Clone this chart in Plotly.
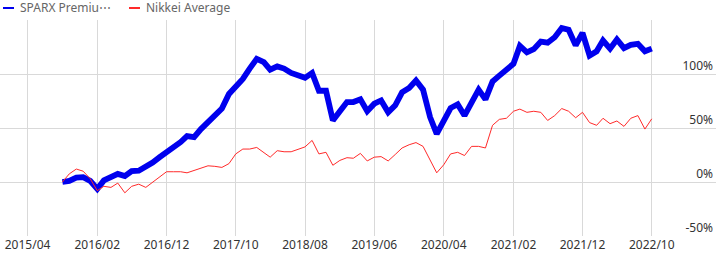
import pandas as pd
import plotly.graph_objects as go

months = pd.date_range("2015-09-01", "2022-10-01", freq="MS")

sparx = [0, 1, 4, 4.5, 1, -6.5, 1.5, 4, 7.5, 5.5, 10, 10.5, 14, 18, 23,
         27.5, 31.5, 37, 42.5, 41.5, 49, 55, 61, 68, 81.5, 88.5, 95.5, 105, 114,
         111, 104, 107, 105, 101, 98.5, 96.5, 101, 84.5, 84.5, 57, 65.5, 74, 74,
         76.5, 65.5, 72.5, 75.5, 64.5, 71, 83, 87, 94, 85.5, 60, 44.5, 55.5, 68.5,
         72, 61.5, 73.5, 85.5, 76.5, 93, 98.5, 104, 109.5, 126, 120, 123, 130, 129,
         134, 142.5, 141, 126.5, 138, 117, 121, 131, 123.5, 132, 124, 127, 128, 121, 123.5]

nikkei = [0, 7.5, 12, 10, 3, -8, -4, -5, -1, -10, -4, -2, -5, 0, 5,
          9.5, 9.5, 9.5, 8.5, 10.5, 13, 15, 14.5, 13.5, 17, 26, 30.5, 30.5, 32,
          27.5, 23, 29, 28, 28, 30, 32.5, 38.5, 26, 27.5, 15.5, 20, 22.5, 22,
          26.5, 19.5, 23, 23.5, 19.5, 25.5, 31.5, 34.5, 36.5, 33, 20.5, 8.5, 16, 26,
          27.5, 24.5, 33, 33, 31.5, 52.5, 58, 59, 65.5, 67.5, 64.5, 65.5, 64.5, 57,
          61.5, 68, 65.5, 59.5, 64.5, 55, 52.5, 59, 54, 56.5, 51.5, 59, 61.5, 49, 58.5]

x_tickvals = ["2015-04-01", "2016-02-01", "2016-12-01", "2017-10-01", "2018-08-01",
              "2019-06-01", "2020-04-01", "2021-02-01", "2021-12-01", "2022-10-01"]
x_ticktext = ["2015/04", "2016/02", "2016/12", "2017/10", "2018/08",
              "2019/06", "2020/04", "2021/02", "2021/12", "2022/10"]
y_tickvals = [-50, 0, 50, 100, 150]
y_ticktext = ["-50%", "0%", "50%", "100%", ""]

series_names = ["SPARX Premiu⋯", "Nikkei Average"]
colors = ["#0000ee", "#ff2a2a"]

fig = go.Figure()
fig.add_trace(go.Scatter(x=months, y=sparx, mode="lines", name=series_names[0],
                         line=dict(color=colors[0], width=5.8)))
fig.add_trace(go.Scatter(x=months, y=nikkei, mode="lines", name=series_names[1],
                         line=dict(color=colors[1], width=1)))

W, H = 720, 259
L, R, T, B = 0, 4, 20, 23
pw = W - L - R
ph = H - T - B

def px_x(p):
    return (p - L) / pw

def px_y(p):
    return 1 + (T - p) / ph

# manual legend
leg = [(3, 14, 18), (129, 140, 144)]
for (x0, x1, tx), nm, c in zip(leg, series_names, colors):
    fig.add_shape(type="line", xref="paper", yref="paper",
                  x0=px_x(x0), x1=px_x(x1), y0=px_y(8), y1=px_y(8),
                  line=dict(color=c, width=2))
    fig.add_annotation(xref="paper", yref="paper", x=px_x(tx), y=px_y(8),
                       text=nm, showarrow=False, xanchor="left", yanchor="middle",
                       font=dict(family="Noto Sans", size=12, color="#666666"))

fig.update_layout(
    width=W, height=H,
    margin=dict(l=L, r=R, t=T, b=B),
    paper_bgcolor="white", plot_bgcolor="white",
    showlegend=False,
    font=dict(family="Noto Sans", size=12, color="#333333"),
    xaxis=dict(
        type="date",
        range=["2014-12-01", "2023-07-10"],
        tickvals=x_tickvals, ticktext=x_ticktext,
        showgrid=True, gridcolor="#d9d9d9", gridwidth=1,
        zeroline=False, showline=False, ticks="",
        tickfont=dict(family="Noto Sans", size=12, color="#333333"),
    ),
    yaxis=dict(
        range=[-50, 150], side="right",
        tickvals=y_tickvals, ticktext=y_ticktext,
        ticklabelposition="inside top",
        showgrid=True, gridcolor="#d9d9d9", gridwidth=1,
        zeroline=False, showline=False, ticks="",
        tickfont=dict(family="Noto Sans", size=12, color="#333333"),
    ),
)

fig.write_html("out.html")
